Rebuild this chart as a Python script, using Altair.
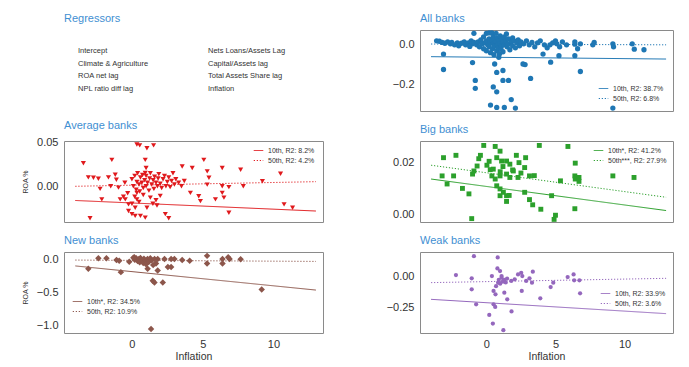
import altair as alt
import pandas as pd

FONT = "Liberation Sans"
TITLE_COLOR = "#3f8fd2"
XDOM = [-4.8, 13.5]
LINE_X = [-4.0, 13.0]
X_TICKS = [0, 5, 10]

regressors_left = ["Intercept", "Climate & Agriculture", "ROA net lag", "NPL ratio diff lag"]
regressors_right = ["Nets Loans/Assets Lag", "Capital/Assets lag", "Total Assets Share lag", "Inflation"]

# ---------------- All banks ----------------
all_x = [-3.6, -3.4, -3.2, -3.0, -2.8, -2.6, -2.5, -2.3, -2.1, -2.0, -1.8, -1.6, -1.5, -1.3, -1.2, -1.1, -1.0, -0.9,
         -3.1, -3.1, -1.0, -0.8, -0.8, -0.9,
         -0.7, -0.6, -0.5, -0.4, -0.3, -0.2, -0.2, -0.1, 0.0, 0.0, 0.0, 0.1, 0.2, 0.2, 0.2, 0.3, 0.3, 0.4, 0.4, 0.45,
         0.5, 0.5, 0.55, 0.6, 0.6, 0.7, 0.7, 0.75, 0.8, 0.8, 0.85, 0.9, 0.95, 1.0, 1.0, 1.05, 1.1, 1.1, 1.2, 1.2, 1.3,
         1.3, 1.4, 1.45, 1.5, 1.6, 1.6, 1.7, 1.8, 1.9, 1.9, 2.0, 2.1, 2.2, 2.3, 2.4, 2.5,
         0.6, 0.75, 0.9, 1.2, 1.2, 1.6, 0.5, 0.75, 0.3, 0.75, 1.3, 1.8, 2.1, 2.65, 2.8, 3.2, 4.1, 4.65, 5.25, 6.4, 6.8, 9.15,
         2.7, 2.9, 3.1, 3.3, 3.5, 3.7, 3.9, 4.2, 4.4, 4.6, 4.8, 5.0, 5.1, 5.3, 5.5, 5.8, 6.4, 6.4, 6.6, 6.8, 7.7, 7.8,
         9.15, 9.2, 10.55, 10.7, 11.4]
all_y = [0.02, 0.018, 0.012, 0.008, 0.015, 0.005, 0.012, 0.0, 0.01, -0.005, 0.008, 0.015, 0.0, 0.01, -0.008, 0.02, 0.005, 0.012,
         -0.047, -0.125, -0.09, -0.18, -0.22, 0.058,
         0.0, 0.015, -0.01, 0.025, 0.005, 0.04, -0.02, 0.01, 0.058, 0.02, -0.03, 0.0, 0.06, 0.03, -0.01, 0.012, -0.04, 0.06, 0.02, -0.02,
         0.04, 0.005, -0.05, 0.025, -0.005, 0.058, 0.015, -0.03, 0.035, 0.0, -0.015, 0.02, -0.045, 0.045, 0.008, -0.02, 0.03, -0.005, 0.015, -0.035, 0.04,
         0.0, 0.02, 0.055, -0.01, 0.03, 0.005, -0.025, 0.015, 0.035, -0.005, 0.02, -0.015, 0.01, 0.025, -0.005, 0.015,
         -0.097, -0.14, -0.063, -0.13, -0.18, -0.18, -0.213, -0.238, -0.305, -0.317, -0.317, -0.277, -0.32, -0.097, -0.1, -0.17, -0.047, -0.088, -0.055, -0.055, -0.135, -0.32,
         0.005, 0.02, 0.0, 0.012, -0.01, 0.01, 0.02, 0.0, -0.015, 0.0, 0.01, 0.02, 0.005, -0.01, 0.015, 0.0, 0.003, 0.015, -0.02, 0.005, 0.0, 0.012,
         0.005, -0.01, 0.005, -0.022, -0.025]
all_q10 = [-0.060, -0.072]
all_q50 = [0.004, 0.000]
all_labels = ["10th, R2: 38.7%", "50th, R2: 6.8%"]

# ---------------- Average banks ----------------
avg_x = [-3.43, -3.08, -2.72, -2.37, -2.25, -2.96, -2.13, -1.66, -1.42, -1.5, -1.18, -1.1, -0.95, -0.83, -0.47, -0.24, -0.24,
         0.0, 0.35, 0.55, 1.06, 1.53, 0.94, 1.0, 0.94, 0.23, 0.6, 0.94, 2.6, 1.77, 2.36, 0.35, 0.35, 0.23, 1.06, 1.48,
         3.55, 4.26, 4.13, 4.72, 4.84, 5.08, 5.32, 5.44, 5.32, 5.9, 6.38, 6.38, 6.38, 6.5, 6.85, 6.85, 7.68, 7.87, 9.22,
         10.5, 10.75, 11.35,
         0.0, 0.1, 0.2, 0.3, 0.35, 0.4, 0.5, 0.55, 0.6, 0.7, 0.75, 0.8, 0.9, 1.0, 1.0, 1.1, 1.2, 1.25, 1.3, 1.4, 1.5, 1.55,
         1.6, 1.7, 1.8, 1.85, 1.9, 2.0, 2.1, 2.2, 2.3, 2.4, 2.5, 2.6, 2.7, 2.8, 2.9, 3.0, 3.1, 3.3, 3.5, 3.7,
         0.2, 0.5, 0.8, 1.3, 1.7, 2.0, -0.3, -0.5, -0.6, 0.0]
avg_y = [0.0265, 0.0102, 0.0098, 0.0087, -0.003, -0.0367, -0.015, 0.0102, 0.0303, 0.0, 0.0133, 0.0076, -0.0015, -0.015, -0.015, -0.0208, -0.0284,
         -0.032, 0.048, 0.047, 0.0436, 0.047, 0.0303, 0.021, 0.0152, -0.034, -0.034, -0.036, -0.0367, -0.022, -0.032, -0.0076, -0.015, -0.0246, -0.0246, -0.02,
         0.0227, 0.021, -0.0076, -0.0114, -0.017, 0.0303, 0.0171, 0.0098, 0.0019, -0.015, 0.021, 0.0, -0.0076, -0.013, -0.001, -0.0303, 0.019, 0.0, 0.0057,
         0.0144, -0.0208, -0.0246,
         0.008, 0.0, 0.012, -0.004, 0.005, 0.015, 0.002, -0.006, 0.01, 0.004, 0.013, -0.002, 0.007, 0.0, 0.012, 0.004, -0.005, 0.009, 0.015, 0.002, 0.007, -0.003,
         0.011, 0.004, 0.0, 0.009, 0.014, 0.003, -0.002, 0.008, 0.012, 0.0, 0.005, 0.01, -0.001, 0.006, 0.015, 0.002, 0.008, 0.004, 0.0, 0.006,
         -0.012, -0.018, -0.01, -0.013, -0.016, -0.011, -0.008, 0.004, -0.012, -0.02]
avg_q10 = [-0.0163, -0.0284]
avg_q50 = [0.0, 0.0053]
avg_labels = ["10th, R2: 8.2%", "50th, R2: 4.2%"]

# ---------------- Big banks ----------------
big_x = [-3.1, -2.2, -3.2, -2.84, -2.37, -1.73, -1.26, -1.06, -1.0, -0.9, -0.55, -0.19, -0.43, -0.67, 0.64, 0.04, 0.28,
         0.75, 0.99, 1.1, 1.46, 1.7, 2.17, 2.36, 2.84, 2.77, 1.95, 1.46, 0.99, 0.4, 0.64, 1.7, 2.29, 3.12, 3.47, 0.75,
         0.99, 1.23, 1.46, 1.65, 0.99, 1.46, 2.77, 3.12, 3.35, 3.94, 3.83, 4.72, 5.0, 4.9, 5.36, 5.9, 6.43, 6.4, 6.43,
         6.7, 6.7, 6.4, 9.15, 10.68, 0.5, 1.2, 1.9, 2.5, 0.2, 1.0]
big_y = [0.0219, 0.0228, 0.0149, 0.0118, 0.0149, 0.0101, 0.008, -0.0015, 0.0156, 0.0168, 0.0215, 0.0266, 0.0228, 0.0187, 0.0262, 0.019, 0.0173,
         0.0219, 0.0244, 0.0206, 0.0206, 0.0194, 0.0228, 0.02, 0.0219, 0.0181, 0.0168, 0.0156, 0.0149, 0.0149, 0.0137, 0.0143, 0.0143, 0.0149, 0.015, 0.0111,
         0.0099, 0.0086, 0.0073, 0.0074, 0.0073, 0.0051, 0.0086, 0.0058, 0.0038, 0.0021, 0.0266, 0.0073, -0.0002, -0.0018, 0.013, 0.0262, 0.0198, 0.0149, 0.0137,
         0.0143, 0.0128, 0.0023, 0.0149, 0.0143, 0.0175, 0.0185, 0.0172, 0.016, 0.0205, 0.0165]
big_q10 = [0.0137, 0.0016]
big_q50 = [0.019, 0.0067]
big_labels = ["10th*, R2: 41.2%", "50th***, R2: 27.9%"]

# ---------------- New banks ----------------
new_x = [-3.08, -2.37, -1.8, -1.09, -0.9, -0.78, -0.19, 0.17, 1.11, 1.47, 1.59, 1.7, 1.82, 2.18, 1.82, 2.3, 2.54, 2.77,
         2.77, 3.0, 3.55, 4.08, 1.35, 5.31, 5.31, 6.4, 6.4, 6.8, 6.9, 7.68, 9.17,
         0.1, 0.2, 0.3, 0.4, 0.5, 0.55, 0.6, 0.7, 0.8, 0.85, 0.95, 1.0, 1.1, 1.2, 1.3, 1.4, 1.5, 1.6]
new_y = [-0.145, 0.01, 0.01, -0.016, -0.026, -0.197, -0.041, 0.026, -0.145, -0.326, -0.352, -0.067, -0.171, -0.352, 0.0, 0.0, -0.119, -0.119,
         0.0, 0.0, -0.016, -0.026, -1.05, 0.047, -0.067, 0.0, -0.067, 0.026, 0.0, -0.005, -0.456,
         0.02, -0.01, 0.01, -0.03, 0.0, -0.05, 0.015, -0.02, -0.06, 0.005, -0.03, -0.08, 0.0, -0.04, 0.01, -0.02, -0.09, 0.0]
new_q10 = [-0.104, -0.466]
new_q50 = [-0.016, -0.036]
new_labels = ["10th*, R2: 34.5%", "50th, R2: 10.9%"]

# ---------------- Weak banks ----------------
weak_x = [-0.9, -2.2, -1.06, -1.06, -0.74, 0.82, 0.4, 0.52, 0.66, 0.52, 0.64, 0.21, 0.47, 1.23, 0.99, 1.1, 0.85, 1.23,
          1.3, 1.3, 1.51, 1.82, 1.8, 2.05, 2.29, 2.52, 2.6, 2.56, 2.88, 3.12, 3.36, 3.3, 3.9, 4.65, 4.84, 5.88, 6.31,
          6.35, 6.73, 6.78, 0.9, 1.0, 1.1, 1.2, 1.4, 1.5, 0.8, 0.7]
weak_y = [0.157, 0.008, -0.018, -0.105, -0.223, 0.147, 0.0, -0.118, -0.144, -0.223, -0.244, -0.307, -0.375, -0.428, 0.039, -0.013, -0.052, -0.039,
          -0.03, -0.131, -0.184, -0.28, -0.039, -0.026, 0.013, 0.026, 0.0, -0.118, -0.039, -0.018, 0.034, -0.052, -0.176, -0.087, -0.052, -0.008, 0.013,
          -0.034, -0.034, -0.136, -0.03, -0.06, 0.0, -0.045, -0.05, -0.02, 0.06, -0.08]
weak_q10 = [-0.184, -0.297]
weak_q50 = [-0.052, -0.018]
weak_labels = ["10th, R2: 33.9%", "50th, R2: 3.6%"]


def panel(title, xs, ys, q10, q50, labels, color, shape, size, ydom, yticks, yfmt,
          ytitle, show_x, legend_xy, width):
    pts = pd.DataFrame({"x": xs, "y": ys})
    lines = pd.DataFrame({
        "x": LINE_X + LINE_X,
        "y": q10 + q50,
        "series": [labels[0]] * 2 + [labels[1]] * 2,
    })
    if show_x:
        xaxis = alt.Axis(values=X_TICKS, title="Inflation", titleFontSize=10.5, titleFont=FONT,
                         titleFontWeight="normal", titleColor="#333", titlePadding=2, labelPadding=5)
    else:
        xaxis = None
    xenc = alt.X("x:Q", scale=alt.Scale(domain=XDOM, nice=False, zero=False), axis=xaxis)
    yaxis_kwargs = dict(values=yticks, format=yfmt, labelPadding=6)
    if ytitle:
        yaxis_kwargs.update(title=ytitle, titleFontSize=7, titleFont=FONT, titleFontWeight="normal",
                            titleColor="#333", titlePadding=8)
    else:
        yaxis_kwargs.update(title=None)
    yenc = alt.Y("y:Q", scale=alt.Scale(domain=ydom, nice=False, zero=False), axis=alt.Axis(**yaxis_kwargs))
    leg = alt.Legend(orient="none", legendX=legend_xy[0], legendY=legend_xy[1], title=None,
                     labelFontSize=7, labelFont=FONT, labelColor="#333", symbolType="stroke",
                     symbolSize=90, symbolStrokeWidth=1, rowPadding=1, padding=0, labelOffset=4)
    pscale = alt.Scale(domain=labels, range=[color, color])
    dscale = alt.Scale(domain=labels, range=[[1, 0], [1.2, 1.8]])
    point_layer = alt.Chart(pts).mark_point(filled=True, shape=shape, size=size, color=color,
                                            opacity=1).encode(x=xenc, y=yenc)
    line_layer = alt.Chart(lines).mark_line(strokeWidth=1).encode(
        x=xenc, y=yenc,
        color=alt.Color("series:N", scale=pscale, legend=leg),
        strokeDash=alt.StrokeDash("series:N", scale=dscale, legend=leg),
        detail="series:N",
    )
    return alt.layer(point_layer, line_layer).properties(
        width=width, height=81,
        title=alt.TitleParams(title, anchor="start", frame="group", fontSize=11, font=FONT,
                              fontWeight="normal", color=TITLE_COLOR, offset=6),
    )


# text panel
reg_df = pd.DataFrame({
    "name": regressors_left + regressors_right,
    "col": [0] * 4 + [1] * 4,
    "row": [0, 1, 2, 3] * 2,
})
text_panel = alt.Chart(reg_df).mark_text(align="left", baseline="middle", fontSize=7.5, font=FONT,
                                         color="#333").encode(
    x=alt.X("col:Q", scale=alt.Scale(domain=[-0.108, 1.885], nice=False, zero=False), axis=None),
    y=alt.Y("row:Q", scale=alt.Scale(domain=[-1.66, 4.74], nice=False, zero=False, reverse=True), axis=None),
    text="name:N",
).properties(
    width=259, height=81,
    view=alt.ViewBackground(stroke="transparent"),
    title=alt.TitleParams("Regressors", anchor="start", frame="group", fontSize=11, font=FONT,
                          fontWeight="normal", color=TITLE_COLOR, offset=6),
)

p_all = panel("All banks", all_x, all_y, all_q10, all_q50, all_labels, "#1f77b4", "circle", 28,
              [-0.335, 0.075], [-0.2, 0.0], ".1f", None, False, (178, 53), 253)
p_avg = panel("Average banks", avg_x, avg_y, avg_q10, avg_q50, avg_labels, "#e0191c", "triangle-down", 26,
              [-0.041, 0.052], [0.0, 0.05], ".2f", "ROA %", False, (189, 4), 259)
p_big = panel("Big banks", big_x, big_y, big_q10, big_q50, big_labels, "#2ca02c", "square", 24,
              [-0.0028, 0.0283], [0.0, 0.02], ".2f", None, False, (173, 4), 253)
p_new = panel("New banks", new_x, new_y, new_q10, new_q50, new_labels, "#8c564b", "diamond", 42,
              [-1.11, 0.105], [-1.0, -0.5, 0.0], ".1f", "ROA %", True, (8, 44), 259)
p_weak = panel("Weak banks", weak_x, weak_y, weak_q10, weak_q50, weak_labels, "#9467bd", "circle", 18,
               [-0.45, 0.19], [-0.25, 0.0], ".2f", None, True, (180, 36), 253)

chart = alt.concat(text_panel, p_all, p_avg, p_big, p_new, p_weak, columns=2,
                   spacing={"row": 30, "column": 97}, bounds="flush").resolve_scale(
    color="independent", strokeDash="independent", x="independent", y="independent"
).properties(
    padding={"left": 12, "top": 4, "right": 5, "bottom": 2},
    background="white",
).configure_axis(
    labelFont=FONT, labelFontSize=11, labelColor="#333", ticks=False, tickSize=0, grid=False, domain=False,
).configure_view(
    stroke="#8a8a8a", strokeWidth=1,
)

chart.save("out.html", embed_options={"renderer": "svg", "actions": False})
